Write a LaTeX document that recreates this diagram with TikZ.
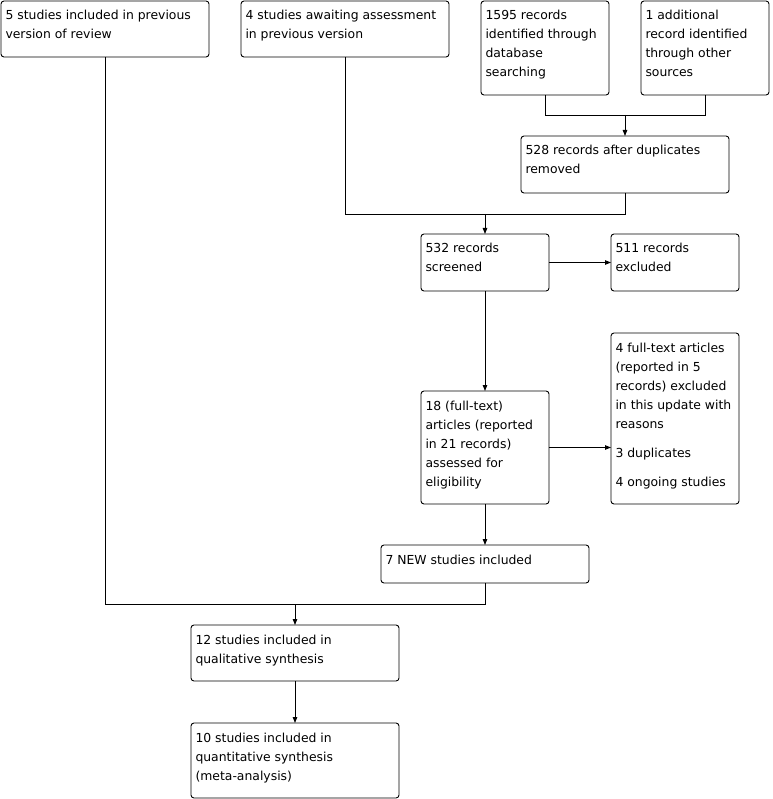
\documentclass[tikz,border=0pt]{standalone}
\usepackage{fontspec}
\setmainfont{DejaVu Sans}
\usetikzlibrary{arrows.meta}
\newcommand{\bt}[3]{\parbox[c][#2][t]{#1}{\raggedright\fontsize{12.4pt}{19pt}\selectfont\rule{0pt}{19pt}#3}}
\tikzset{
  fbox/.style={draw=black, line width=0.9pt, rounded corners=3pt, inner xsep=4.5pt, inner ysep=0pt, outer sep=0pt, anchor=north west},
  conn/.style={draw=black, line width=0.9pt},
  arr/.style={conn, -{Triangle[length=6pt,width=4.5pt]}}
}
\begin{document}
\begin{tikzpicture}[x=1pt,y=-1pt]
\useasboundingbox (0,0) rectangle (772,799);
\node[fbox] (A) at (1,1) {\bt{199pt}{56pt}{5 studies included in previous\\version of review}};
\node[fbox] (B) at (241,1) {\bt{199pt}{56pt}{4 studies awaiting assessment\\in previous version}};
\node[fbox] (C) at (481,1) {\bt{119pt}{94pt}{1595 records\\identified through\\database\\searching}};
\node[fbox] (D) at (641,1) {\bt{119pt}{94pt}{1 additional\\record identified\\through other\\sources}};
\node[fbox] (E) at (521,136) {\bt{199pt}{57pt}{528 records after duplicates\\removed}};
\node[fbox] (F) at (421,234) {\bt{119pt}{57pt}{532 records\\screened}};
\node[fbox] (G) at (611,234) {\bt{119pt}{57pt}{511 records\\excluded}};
\node[fbox] (H) at (421,391) {\bt{119pt}{113pt}{18 (full-text)\\articles (reported\\in 21 records)\\assessed for\\eligibility}};
\node[fbox] (I) at (611,333) {\bt{119pt}{171pt}{4 full-text articles\\(reported in 5\\records) excluded\\in this update with\\reasons\\[10pt]3 duplicates\\[10pt]4 ongoing studies}};
\node[fbox] (J) at (381,545) {\bt{199pt}{38pt}{7 NEW studies included}};
\node[fbox] (K) at (191,625) {\bt{199pt}{56pt}{12 studies included in\\qualitative synthesis}};
\node[fbox] (L) at (191,723) {\bt{199pt}{75pt}{10 studies included in\\quantitative synthesis\\(meta-analysis)}};
\coordinate (m1) at (625,115);
\coordinate (m2) at (485,214);
\coordinate (m3) at (295,604);
\draw[conn] (C.south) |- (m1);
\draw[conn] (D.south) |- (m1);
\draw[arr] (m1) -- (E.north);
\draw[conn] (B.south) |- (m2);
\draw[conn] (E.south) |- (m2);
\draw[arr] (m2) -- (F.north);
\draw[arr] (F.east) -- (G.west |- F.east);
\draw[arr] (F.south) -- (H.north);
\draw[arr] (H.east) -- (I.west |- H.east);
\draw[arr] (H.south) -- (J.north);
\draw[conn] (A.south) |- (m3);
\draw[conn] (J.south) |- (m3);
\draw[arr] (m3) -- (K.north);
\draw[arr] (K.south) -- (L.north);
\end{tikzpicture}
\end{document}
